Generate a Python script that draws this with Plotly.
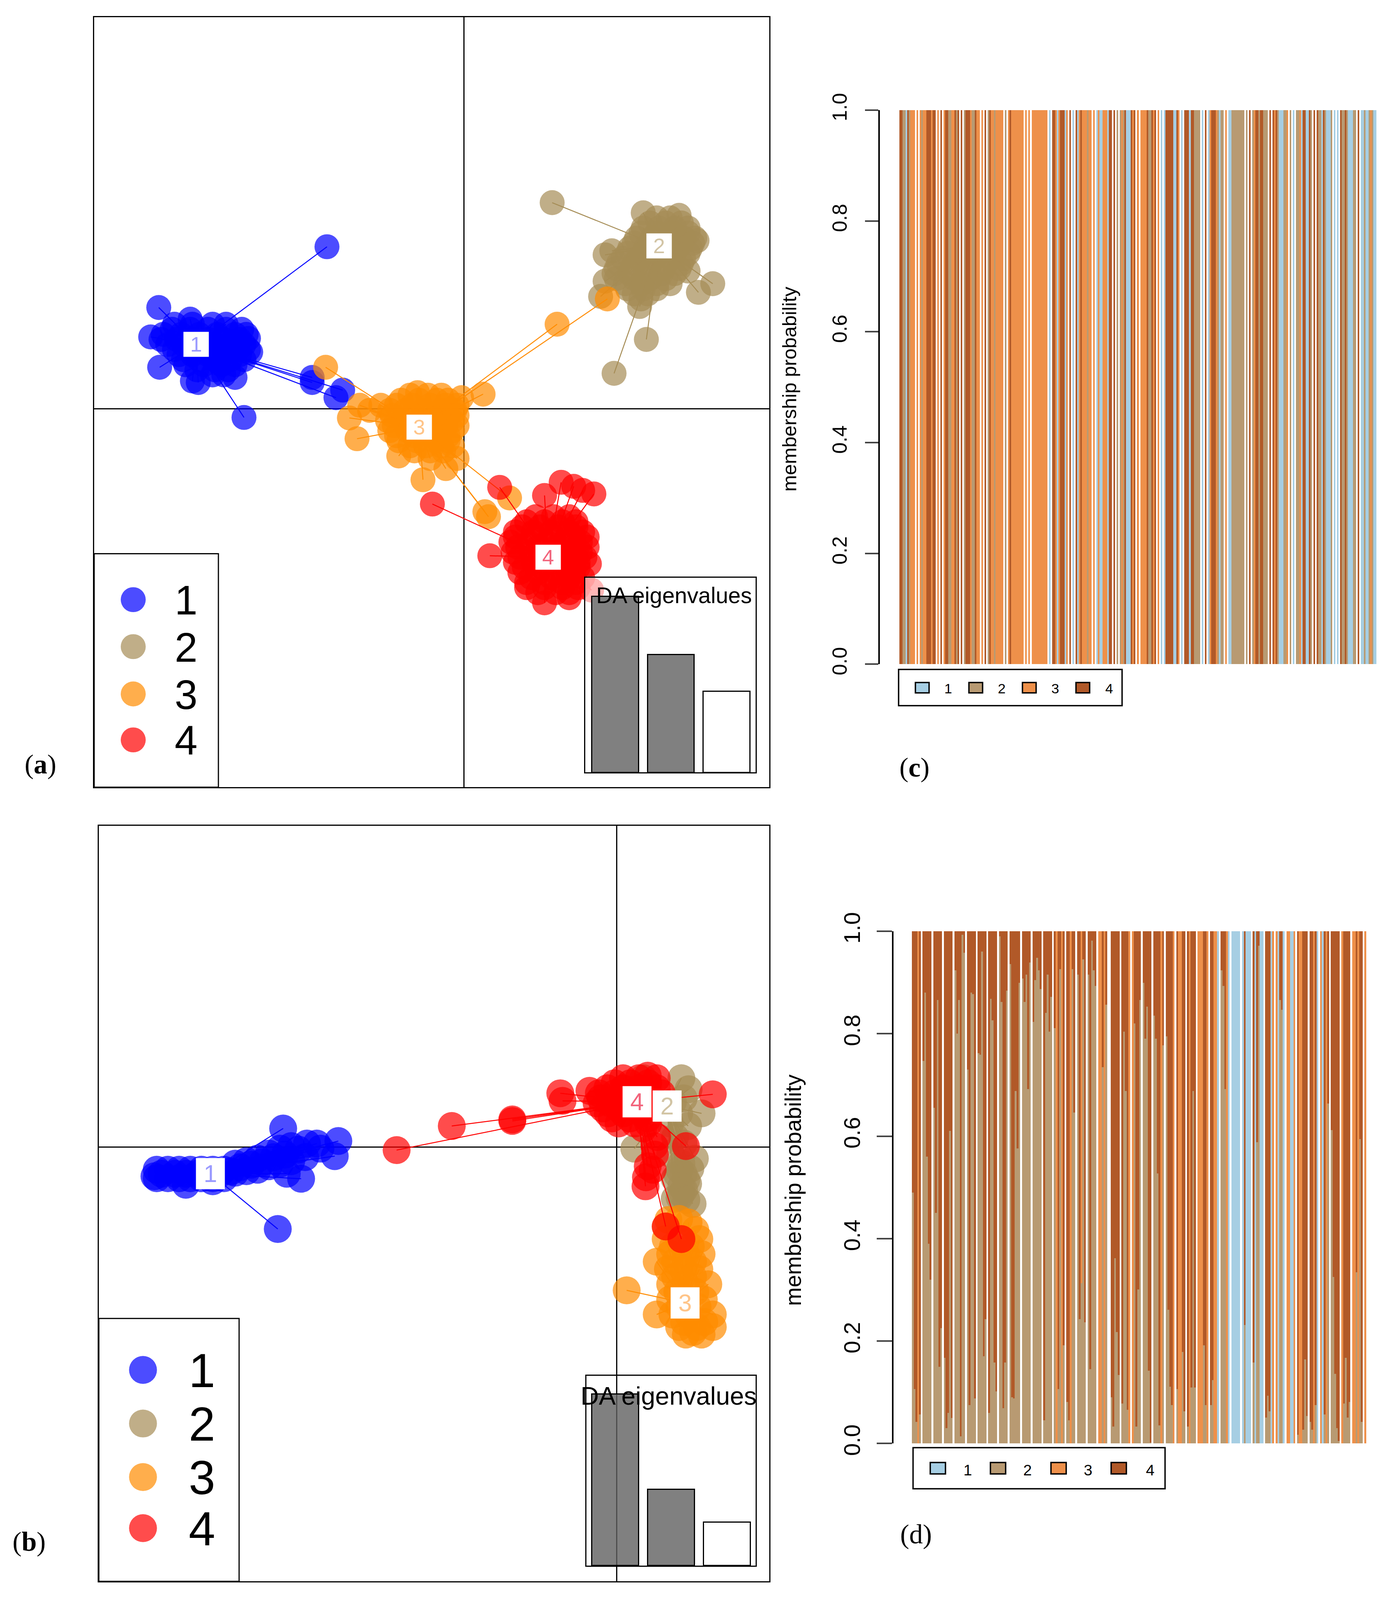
import plotly.graph_objects as go

W, H = 3568, 4632     # reference size: all positions below are in its pixels
VIEW_H = 4096         # tallest page the browser window really shows
FS = 0.94             # text and marker size factor for the compressed page height
SANS = "Liberation Sans"
SERIF = "Liberation Serif"

# ---------- Panel (a): discriminant scores ----------
a_clusters = ["1", "2", "3", "4"]
a1_centre = (-5.97, 1.27)
a1_points = [(-3.05,3.20),(-6.80,2.00),(-6.98,1.42),(-6.78,0.82),(-4.90,-0.17),(-3.38,0.52),(-3.38,0.62),
             (-2.85,0.22),(-2.70,0.37),(-5.92,0.52),(-6.05,0.55),(-5.10,0.62),(-4.80,1.39),(-4.75,1.12),
             (-6.45,1.67),(-6.05,1.67),(-5.60,1.67),(-5.30,1.67),(-6.10,1.77),
             (-6.70,1.47),(-6.30,1.47),(-5.90,1.47),(-5.50,1.47),(-5.10,1.47),(-4.85,1.47),
             (-6.60,1.27),(-6.25,1.27),(-5.90,1.27),(-5.55,1.27),(-5.20,1.27),(-4.90,1.27),
             (-6.35,1.07),(-6.05,1.07),(-5.70,1.07),(-5.35,1.07),(-5.00,1.07),
             (-6.20,0.87),(-5.80,0.87),(-5.40,0.87),(-5.10,0.87),(-5.60,0.67),(-5.35,0.67),
             (-6.50,1.57),(-6.10,1.57),(-5.70,1.57),(-5.30,1.57),(-4.95,1.57),
             (-6.75,1.37),(-6.40,1.37),(-6.05,1.37),(-5.70,1.37),(-5.35,1.37),(-5.00,1.37),
             (-6.45,1.17),(-6.10,1.17),(-5.75,1.17),(-5.40,1.17),(-5.05,1.17),(-4.80,1.17),
             (-6.25,0.97),(-5.90,0.97),(-5.55,0.97),(-5.20,0.97),(-4.90,0.97),
             (-5.95,0.77),(-5.55,0.77),(-5.25,0.77)]
a2_centre = (4.35, 3.22)
a2_points = [(1.97,4.07),(5.55,2.47),(5.23,2.30),(4.07,1.37),(3.35,0.70),(3.15,3.04),(3.30,3.12),(3.05,2.22),
             (3.15,2.52),(3.92,2.02),(3.95,2.17),(4.00,3.87),(4.80,3.82),(5.20,3.32),(5.00,2.72),(4.60,2.47),
             (4.30,3.77),(4.60,3.77),(4.00,3.57),(4.35,3.57),(4.70,3.57),(5.00,3.57),
             (3.85,3.37),(4.20,3.37),(4.55,3.37),(4.90,3.37),(5.15,3.37),
             (3.70,3.17),(4.05,3.17),(4.40,3.17),(4.75,3.17),(5.05,3.17),
             (3.55,2.97),(3.90,2.97),(4.25,2.97),(4.60,2.97),(4.90,2.97),
             (3.40,2.77),(3.75,2.77),(4.10,2.77),(4.45,2.77),(4.80,2.77),
             (3.40,2.57),(3.80,2.57),(4.15,2.57),(4.50,2.57),(3.65,2.37),(4.00,2.37),(4.30,2.37),
             (4.15,3.67),(4.50,3.67),(4.85,3.67),(3.95,3.47),(4.30,3.47),(4.65,3.47),(5.00,3.47),
             (3.80,3.27),(4.15,3.27),(4.50,3.27),(4.85,3.27),(5.10,3.27),
             (3.65,3.07),(4.00,3.07),(4.35,3.07),(4.70,3.07),(5.00,3.07),
             (3.45,2.87),(3.80,2.87),(4.15,2.87),(4.50,2.87),(4.85,2.87),
             (3.35,2.67),(3.70,2.67),(4.05,2.67),(4.40,2.67),(4.70,2.67),
             (3.60,2.47),(3.95,2.47),(4.30,2.47),(3.80,2.27),(4.10,2.27)]
a3_centre = (-0.99, -0.36)
a3_points = [(-3.08,0.82),(-2.32,0.07),(-2.55,-0.18),(-2.38,-0.59),(-1.45,-0.93),(-0.91,-1.40),(-0.40,-1.18),
             (-0.15,-0.98),(-0.05,0.22),(0.43,0.29),(2.08,1.67),(3.20,2.17),(0.47,-2.03),(0.55,-2.13),(1.02,-1.76),
             (-1.03,0.32),(-1.85,0.07),(-2.10,-0.03),
             (-1.40,0.17),(-1.00,0.17),(-0.60,0.17),(-0.35,0.17),
             (-1.65,-0.03),(-1.30,-0.03),(-0.90,-0.03),(-0.50,-0.03),(-0.20,-0.03),
             (-1.70,-0.23),(-1.35,-0.23),(-0.95,-0.23),(-0.55,-0.23),(-0.25,-0.23),
             (-1.65,-0.43),(-1.25,-0.43),(-0.85,-0.43),(-0.50,-0.43),(-0.25,-0.43),
             (-1.45,-0.63),(-1.05,-0.63),(-0.65,-0.63),(-0.35,-0.63),
             (-1.10,-0.83),(-0.75,-0.83),(-0.45,-0.83),(-0.75,-0.98),
             (-1.20,0.27),(-0.80,0.27),(-0.50,0.27),
             (-1.50,0.07),(-1.15,0.07),(-0.75,0.07),(-0.40,0.07),(-0.15,0.07),
             (-1.60,-0.13),(-1.15,-0.13),(-0.75,-0.13),(-0.35,-0.13),(-0.15,-0.13),
             (-1.55,-0.33),(-1.15,-0.33),(-0.75,-0.33),(-0.40,-0.33),(-0.15,-0.33),
             (-1.50,-0.53),(-1.10,-0.53),(-0.70,-0.53),(-0.35,-0.53),
             (-1.20,-0.73),(-0.85,-0.73),(-0.50,-0.73),(-0.25,-0.73)]
a4_centre = (1.88, -2.93)
a4_points = [(-0.70,-1.88),(0.80,-1.55),(0.58,-2.90),(1.80,-1.71),(2.17,-1.45),(2.45,-1.53),(2.65,-1.61),(2.90,-1.68),
             (2.80,-3.06),(2.85,-3.58),(1.80,-3.83),(2.35,-3.73),(1.40,-3.53),
             (1.40,-2.23),(1.80,-2.23),(2.20,-2.23),(2.50,-2.23),
             (1.15,-2.43),(1.55,-2.43),(1.95,-2.43),(2.35,-2.43),(2.65,-2.43),
             (1.05,-2.63),(1.45,-2.63),(1.85,-2.63),(2.25,-2.63),(2.60,-2.63),
             (1.10,-2.83),(1.50,-2.83),(1.90,-2.83),(2.30,-2.83),(2.60,-2.83),
             (1.15,-3.03),(1.55,-3.03),(1.95,-3.03),(2.35,-3.03),(2.55,-3.03),
             (1.25,-3.23),(1.65,-3.23),(2.05,-3.23),(2.45,-3.23),
             (1.40,-3.43),(1.80,-3.43),(2.20,-3.43),(2.50,-3.43),(1.65,-3.63),(2.05,-3.63),(2.35,-3.63),
             (1.60,-2.13),(2.00,-2.13),(2.35,-2.13),(1.30,-2.33),(1.70,-2.33),(2.10,-2.33),(2.50,-2.33),
             (1.15,-2.53),(1.60,-2.53),(2.00,-2.53),(2.45,-2.53),(2.75,-2.53),
             (1.20,-2.73),(1.65,-2.73),(2.05,-2.73),(2.45,-2.73),(2.75,-2.73),
             (1.25,-2.93),(1.70,-2.93),(2.10,-2.93),(2.50,-2.93),(2.70,-2.93),
             (1.35,-3.13),(1.75,-3.13),(2.15,-3.13),(2.55,-3.13),
             (1.50,-3.33),(1.95,-3.33),(2.35,-3.33),(2.65,-3.33),(1.80,-3.53),(2.20,-3.53),(2.55,-3.53)]
a_eigen = [1.0, 0.67, 0.46]

# ---------- Panel (b): discriminant scores ----------
b1_centre = (-9.06, -0.53)
b1_points = [(-7.44,0.37),(-6.69,0.07),(-6.21,0.12),(-6.29,-0.18),(-7.04,-0.63),(-7.56,-1.63),(-7.36,-0.53),(-6.61,-0.03),
             (-6.91,0.07),(-9.61,-0.75),(-9.01,-0.68),(-10.31,-0.58),
             (-10.26,-0.45),(-10.01,-0.45),(-9.76,-0.45),(-9.51,-0.45),(-9.26,-0.45),(-9.01,-0.45),(-8.76,-0.45),
             (-10.26,-0.62),(-10.01,-0.62),(-9.76,-0.62),(-9.51,-0.62),(-9.26,-0.62),(-9.01,-0.62),(-8.76,-0.62),
             (-8.51,-0.33),(-8.26,-0.28),(-8.01,-0.23),(-7.76,-0.13),(-7.51,-0.03),(-7.26,0.02),
             (-8.51,-0.51),(-8.26,-0.48),(-8.01,-0.45),(-7.76,-0.38),(-7.51,-0.33),(-7.26,-0.28),
             (-10.15,-0.53),(-9.85,-0.53),(-9.60,-0.53),(-9.35,-0.53),(-9.10,-0.53),(-8.85,-0.53),(-8.60,-0.48),
             (-8.40,-0.40),(-8.15,-0.35),(-7.90,-0.30),(-7.65,-0.20),(-7.40,-0.15),(-7.10,-0.05),(-6.95,-0.20)]
b2_centre = (1.12, 0.82)
b2_points = [(1.44,1.37),(0.59,1.37),(1.89,0.67),(0.39,-0.03),(1.49,0.07),(1.44,-0.33),(1.49,-0.53),(1.59,-0.73),
             (1.44,-0.93),(1.69,-1.13),(1.29,-1.03),(1.64,-0.43),(1.29,-0.63),(1.44,-0.78),(1.19,0.47),(1.49,0.97),
             (1.59,0.42),(1.39,0.67),(1.19,-0.13),(1.74,-0.23),
             (1.35,-0.55),(1.55,-0.65),(1.40,-0.45),(1.50,-0.85),(1.40,-1.00),(1.55,-1.05),(1.30,0.20),(1.25,0.90),(1.60,1.15)]
b3_centre = (1.52, -3.10)
b3_points = [(0.22,-2.85),(0.89,-3.33),(0.89,-2.28),(1.39,-1.43),(1.09,-1.58),
             (1.09,-1.83),(1.44,-1.83),(1.84,-1.83),(1.19,-2.13),(1.54,-2.13),(1.89,-2.13),
             (1.14,-2.43),(1.49,-2.43),(1.84,-2.43),(1.19,-2.73),(1.54,-2.73),(2.04,-2.73),
             (1.19,-3.03),(1.54,-3.03),(1.94,-3.03),(1.24,-3.33),(1.59,-3.33),(2.14,-3.33),
             (1.39,-3.58),(1.79,-3.58),(2.14,-3.58),(1.54,-3.73),(1.89,-3.73),
             (1.25,-1.98),(1.65,-1.98),(1.30,-2.28),(1.70,-2.28),(1.30,-2.58),(1.70,-2.58),(1.35,-2.88),(1.75,-2.88),
             (1.40,-3.18),(1.80,-3.18),(1.50,-3.48),(1.95,-3.48),(1.70,-3.68),(1.15,-1.45),(1.60,-1.50),(1.75,-1.65)]
b4_centre = (0.45, 0.90)
b4_points = [(-4.91,-0.06),(-3.68,0.42),(-2.33,0.52),(-2.33,0.55),(-1.26,1.07),(-1.21,0.92),(-0.61,1.12),(2.14,1.05),
             (0.84,0.02),(0.69,-0.38),(0.64,-0.78),(1.54,0.02),(1.44,-1.83),(1.09,-1.58),(0.04,0.47),(0.69,1.42),
             (0.14,1.37),(0.49,1.37),(0.89,1.37),(-0.21,1.17),(0.14,1.17),(0.49,1.17),(0.89,1.17),
             (-0.36,0.97),(-0.01,0.97),(0.39,0.97),(0.79,0.97),(-0.31,0.77),(0.04,0.77),(0.44,0.77),(0.84,0.77),
             (-0.11,0.57),(0.29,0.57),(0.69,0.57),(0.59,0.37),
             (-0.05,1.27),(0.30,1.27),(0.70,1.27),(-0.40,1.07),(-0.05,1.07),(0.30,1.07),(0.70,1.07),(1.00,1.07),
             (-0.45,0.87),(-0.15,0.87),(0.20,0.87),(0.60,0.87),(0.95,0.87),(-0.20,0.67),(0.15,0.67),(0.55,0.67),
             (0.40,0.47),(0.70,0.47),(0.85,-0.15),(0.80,-0.45),(0.65,-0.60),(0.90,0.20)]
b_eigen = [1.0, 0.445, 0.254]

# ---------- Panel (c): assignment of each individual (_ = no bar) ----------
c_assign = (
    "4422142333_3_3233444344_3_4_344223342"
    "4_4_2444322433_3_4_2433233333_2_34"
    "33333333_3_3_3333333333_1_4431"
    "34441 3_4_1_4134333233_3_1311333144_4_2_2324111434_3_3333422434_3_1_14444411 43_1_444144 2222_1_4_13444 32"
    "122_3_1122222222_2_4_2344244222_4_4342111223_2_1_2231441142_4_4221421112_1_1_4224211122_4_1121 1 2 3 2 11"
).replace(" ", "")

# ---------- Panel (d): per-bar memberships; number = share of cluster 2 (rest cluster 4),
# O = all cluster 3, L = all cluster 1, pair = cluster 2 share + cluster 3 share
d_groups = [
    [.49,.106,.042,"O",.057],[.747,.88,.56,.39,.32],[.655,.45,.866,.15,.225],[.167,.03,.06,.61,.05],
    [.924,.80,.866,.014,.993,.958],[.73,.075,.88,.877,.088],[.762,.759,.96,.17,.243],[.06,.868,.826,.158,.102],
    [.99,.862,.069,.158,.884],[.936,.09,.088,.688,.576,.899],[.908,.862,.915,.692,.939],[.823,.905,.948,.924,.887],
    [.045,.841,.915,.804,.872],[.811,"O",.106,.926,"O",.192],[.081,.045,"O",.926,.646],[.915,.243,(.313,.687),.945,.237],
    [.915,.145,.982,.924,.893],["O","O",.735,"O",.857],[],[.09,.033,.362,.218,.134],[.078,.804,.688,.066,"O"],
    ["O",.82,.033,.301,.866],[.899,.79,.853,.142,.002],[.835,.79,.527,.035,"O",.777],[.795,.261,.111,.075,"O"],
    [.106,"O","O",.179,.063],[.033,"O",.109,.688,.109],["O","O","O",.192,.075,"O"],[.075,.124,"O","O","L"],
    [.924,.893,.692,"O","L"],["L","L","L","L","L"],["L",.231,"L","L","L"],[.158,"L",.588,.972,"L","L"],
    [.051,.093,.063,"L","O"],["O","L",.866,.847,"L"],["O","O","L","L","O"],[.017,"O","O",.027,.164,.054],
    [.042,.027,"O",.075,"L"],["O","L",.057,"O",.664],[.612,.325,.136,.03,.005],["O",.078,.167,.051,.081],
    ["O","O",.334,"O",.594,.042],["O"],
]

y_ticks = [0.0, 0.2, 0.4, 0.6, 0.8, 1.0]
y_tick_text = ["0.0", "0.2", "0.4", "0.6", "0.8", "1.0"]
y_title = "membership probability"

SCAT = {"1": "rgb(0,0,255)", "2": "rgb(165,140,85)", "3": "rgb(255,140,0)", "4": "rgb(255,0,0)"}
SCAT_A = {"1": "rgba(0,0,255,.7)", "2": "rgba(165,140,85,.7)", "3": "rgba(255,140,0,.7)", "4": "rgba(255,0,0,.7)"}
LABEL = {"1": "#9a9aff", "2": "#d2c4a4", "3": "#ffc488", "4": "#f2647c"}
BAR = {"1": "#A6CEE3", "2": "#B89A72", "3": "#EE904A", "4": "#B15928"}


def px_x(x):
    return x / W


def px_y(y):
    return 1 - y / H


fig = go.Figure()
layout = dict(width=W, height=VIEW_H, autosize=False, margin=dict(l=0, r=0, t=0, b=0, pad=0, autoexpand=False),
              paper_bgcolor="white", plot_bgcolor="rgba(0,0,0,0)", showlegend=False,
              barmode="stack", bargap=0, hovermode=False, font=dict(family=SANS, color="black"))


def add_axes(n, box, xr, yr, **ykw):
    x0, y0, x1, y1 = box
    s = "" if n == 1 else str(n)
    xa = dict(domain=[px_x(x0), px_x(x1)], range=xr, anchor="y" + s, showgrid=False, showticklabels=False,
              ticks="", zeroline=False)
    ya = dict(domain=[px_y(y1), px_y(y0)], range=yr, anchor="x" + s, showgrid=False, showticklabels=False,
              ticks="", zeroline=False)
    ya.update(ykw)
    return xa, ya, "x" + s, "y" + s


def framed(n, box, xr, yr, cross):
    xa, ya, xn, yn = add_axes(n, box, xr, yr)
    for a in (xa, ya):
        a.update(showline=True, mirror=True, linecolor="black", linewidth=3)
        if cross:
            a.update(zeroline=True, zerolinecolor="black", zerolinewidth=3)
    s = "" if n == 1 else str(n)
    layout["xaxis" + s] = xa
    layout["yaxis" + s] = ya
    return xn, yn


annotations = []
shapes = []


def text(x, y, t, size, color="black", family=SANS, **kw):
    annotations.append(dict(x=px_x(x), y=px_y(y), xref="paper", yref="paper", text=t, showarrow=False,
                            xanchor="center", yanchor="middle",
                            font=dict(size=size * FS, color=color, family=family), **kw))


def scatter_panel(xn, yn, clusters, msize, lab_box, lab_font):
    for key, centre, pts in clusters:
        lx, ly = [], []
        for p in pts:
            lx += [centre[0], p[0], None]
            ly += [centre[1], p[1], None]
        fig.add_trace(go.Scatter(x=lx, y=ly, mode="lines", line=dict(color=SCAT[key], width=2.5),
                                 xaxis=xn, yaxis=yn))
        fig.add_trace(go.Scatter(x=[p[0] for p in pts], y=[p[1] for p in pts], mode="markers",
                                 marker=dict(size=msize * FS, color=SCAT[key], opacity=0.7, line=dict(width=0)),
                                 xaxis=xn, yaxis=yn))
    for key, centre, pts in clusters:
        annotations.append(dict(x=centre[0], y=centre[1], xref=xn, yref=yn, text=key, showarrow=False,
                                bgcolor="white", width=lab_box[0], height=lab_box[1] * VIEW_H / H, align="center",
                                valign="middle", font=dict(size=lab_font * FS, color=LABEL[key], family=SANS)))


def cluster_legend(box, xs, ys, r, tx, font):
    r = r * FS
    shapes.append(dict(type="rect", xref="paper", yref="paper", x0=px_x(box[0]), x1=px_x(box[2]),
                       y0=px_y(box[1]), y1=px_y(box[3]), line=dict(color="black", width=3), fillcolor="white",
                       layer="above"))
    for key, y in zip(a_clusters, ys):
        shapes.append(dict(type="circle", xref="paper", yref="paper", x0=px_x(xs - r), x1=px_x(xs + r),
                           y0=px_y(y) - r / VIEW_H, y1=px_y(y) + r / VIEW_H, line=dict(width=0),
                           fillcolor=SCAT_A[key], layer="above"))
        text(tx, y + 2, key, font)


def eigen_inset(n, box, xr, yr, vals, fill, title, tx, ty, tsize):
    xn, yn = framed(n, box, xr, yr, False)
    fig.add_trace(go.Bar(x=[0, 1, 2], y=vals, width=0.84, xaxis=xn, yaxis=yn,
                         marker=dict(color=[fill, fill, "white"], line=dict(color="black", width=3))))
    text(tx, ty, title, tsize)


# ---------- (a) ----------
xa_, ya_ = framed(1, (241, 50, 1969, 2279), [-8.24, 6.81], [-7.47, 7.73], True)
scatter_panel(xa_, ya_, [("1", a1_centre, a1_points), ("2", a2_centre, a2_points),
                         ("3", a3_centre, a3_points), ("4", a4_centre, a4_points)],
              68, (62, 69), 58)
# translucent white ground of the eigenvalue inset: it pales the mark that runs under it
INSET_A = (1498, 1672, 1934, 2236)
xa, ya, xn, yn = add_axes(3, INSET_A, [0, 1], [0, 1])
layout["xaxis3"], layout["yaxis3"] = xa, ya
fig.add_trace(go.Scatter(x=[0, 1, 1, 0, 0], y=[0, 0, 1, 1, 0], mode="lines", fill="toself",
                         fillcolor="rgba(255,255,255,.6)", line=dict(width=0), xaxis=xn, yaxis=yn))
eigen_inset(5, INSET_A, [-0.54, 2.52], [0, 1.106], a_eigen, "#808080", "DA eigenvalues", 1725, 1723, 61)
cluster_legend((241, 1603, 559, 2279), 341, [1736, 1872, 2009, 2142], 34, 476, 112)

# ---------- (b) ----------
xb_, yb_ = framed(2, (253, 2391, 1969, 4578), [-11.55, 3.40], [-8.64, 6.39], True)
scatter_panel(xb_, yb_, [("1", b1_centre, b1_points), ("2", b2_centre, b2_points),
                         ("3", b3_centre, b3_points), ("4", b4_centre, b4_points)],
              76, (71, 87), 66)
eigen_inset(6, (1501, 3983, 1934, 4533), [-0.52, 2.51], [0, 1.107], b_eigen, "rgba(96,96,96,.8)",
            "DA eigenvalues", 1711, 4041, 69)
cluster_legend((253, 3817, 612, 4578), 366, [3966, 4121, 4276, 4424], 38, 517, 130)

# ---------- (c) ----------
C_SLOT = 1221 / len(c_assign)
AX_C = (2252, 319, 3523, 1923)
xa, ya, xn, yn = add_axes(7, AX_C, [-0.5 - 50 / C_SLOT, len(c_assign) - 0.5], [0, 1],
                          showline=True, linecolor="black", linewidth=4, ticks="outside", ticklen=34, tickwidth=3.5,
                          tickvals=y_ticks, ticktext=y_tick_text, showticklabels=True, tickangle=-90,
                          tickfont=dict(size=52, family=SANS, color="black"), ticklabelstandoff=26)
layout["xaxis7"], layout["yaxis7"] = xa, ya
for key in a_clusters:
    idx = [i for i, ch in enumerate(c_assign) if ch == key]
    fig.add_trace(go.Bar(x=idx, y=[1.0] * len(idx), width=1, marker=dict(color=BAR[key], line=dict(width=0)),
                         xaxis=xn, yaxis=yn))

# ---------- (d) ----------
d_tan, d_orange, d_blue, d_brown = [], [], [], []
for g in d_groups:
    for v in g:
        if v == "O":
            t, o, b = 0, 1, 0
        elif v == "L":
            t, o, b = 0, 0, 1
        elif isinstance(v, tuple):
            t, o, b = v[0], v[1], 0
        else:
            t, o, b = v, 0, 0
        d_tan.append(t); d_orange.append(o); d_blue.append(b); d_brown.append(max(0, 1 - t - o - b))
    for arr in (d_tan, d_orange, d_blue, d_brown):
        arr.append(0)
d_n = len(d_tan) - 1
D_SLOT = (3497 - 2334) / d_n
AX_D = (2287, 2696, 3497, 4179)
xa, ya, xn, yn = add_axes(8, AX_D, [-0.5 - (2334 - 2287) / D_SLOT, d_n - 0.5], [0, 1],
                          showline=True, linecolor="black", linewidth=4, ticks="outside", ticklen=39, tickwidth=3.5,
                          tickvals=y_ticks, ticktext=y_tick_text, showticklabels=True, tickangle=-90,
                          tickfont=dict(size=58, family=SANS, color="black"), ticklabelstandoff=20)
layout["xaxis8"], layout["yaxis8"] = xa, ya
for key, arr in (("1", d_blue), ("2", d_tan), ("3", d_orange), ("4", d_brown)):
    fig.add_trace(go.Bar(x=list(range(d_n + 1)), y=arr, width=1, marker=dict(color=BAR[key], line=dict(width=0)),
                         xaxis=xn, yaxis=yn))


def swatch_legend(box, sw_x, sw_w, sw_y, tx_x, ty, font):
    shapes.append(dict(type="rect", xref="paper", yref="paper", x0=px_x(box[0]), x1=px_x(box[2]),
                       y0=px_y(box[1]), y1=px_y(box[3]), line=dict(color="black", width=3.5), fillcolor="white",
                       layer="above"))
    for key, sx, tx in zip(a_clusters, sw_x, tx_x):
        shapes.append(dict(type="rect", xref="paper", yref="paper", x0=px_x(sx), x1=px_x(sx + sw_w),
                           y0=px_y(sw_y[0]), y1=px_y(sw_y[1]), line=dict(color="black", width=3.5),
                           fillcolor=BAR[key], layer="above"))
        text(tx, ty, key, font)


swatch_legend((2300, 1938, 2872, 2043), [2343, 2480, 2617, 2754], 35, (1976, 2006), [2427, 2564, 2701, 2839], 1994, 38)
swatch_legend((2337, 4191, 2982, 4310), [2381, 2535, 2690, 2844], 39, (4234, 4267), [2477, 2630, 2785, 2944], 4255, 42)

text(2021, 1127, y_title, 54, textangle=-90)
text(2030, 3445, y_title, 61, textangle=-90)

for x, y, letter in ((103, 2212, "a"), (74, 4463, "b"), (2340, 2222, "c"), (2344, 4442, "d")):
    text(x, y, "(<b>%s</b>)" % letter if letter in "abc" else "(%s)" % letter, 74, family=SERIF)

layout["annotations"] = annotations
layout["shapes"] = shapes
fig.update_layout(**layout)
fig.write_html("out.html", post_script="document.body.style.margin='0';", config={"displayModeBar": False})
